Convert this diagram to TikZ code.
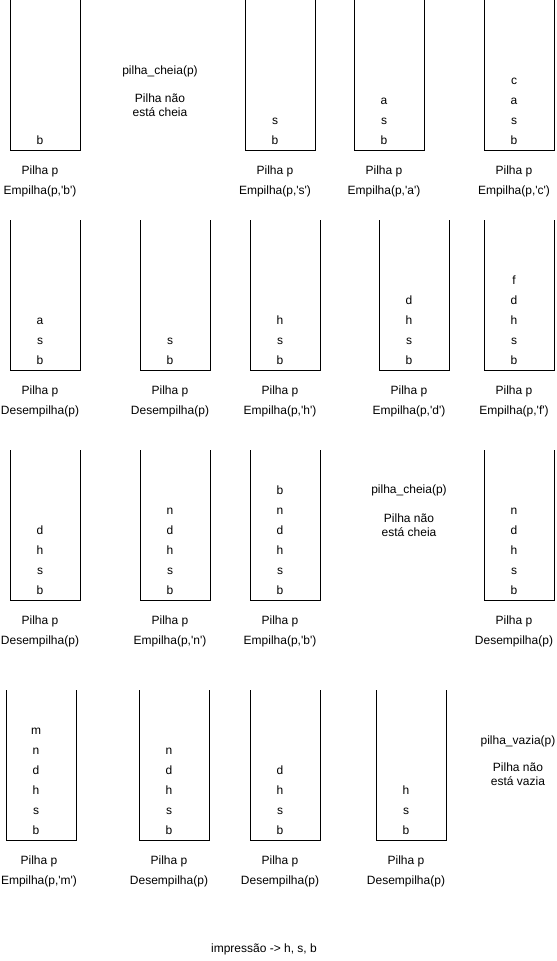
\documentclass[tikz,border=0pt]{standalone}
\usepackage{fontspec}
\setmainfont{Liberation Sans}[Ligatures=TeXOff]
\tikzset{
  stackline/.style={draw=black, line width=0.75pt},
  txt/.style={inner sep=0pt, font=\fontsize{9}{10.5}\selectfont, text height=1.5ex, text depth=.3ex, align=center},
}
% #1 name, #2 x left, #3 y top, #4 letters bottom first, #5 operation, #6 label x offset
\newcommand\mystack[6]{%
  \draw[stackline] (#2,#3) -- (#2,#3+150) -- (#2+70,#3+150) -- (#2+70,#3);
  \foreach \l [count=\i] in {#4} {\node[txt] (#1-\i) at (#2+30,#3+140-20*\i+20) {\l};}
  \node[txt] (#1-a) at (#2+#6,#3+170) {Pilha p};
  \node[txt] (#1-b) at (#2+#6,#3+190) {#5};
}
\begin{document}
\begin{tikzpicture}[x=0.75pt,y=-0.75pt]
\useasboundingbox (0,0) rectangle (557,961);
% row 1
\mystack{r1a}{10}{0}{b}{Empilha(p,'b')}{30}
\node[txt] (c1) at (160,70) {pilha\_cheia(p)};
\node[txt] (c1t) at (160,98) {Pilha não};
\node[txt] (c1u) at (160,112) {está cheia};
\mystack{r1b}{245}{0}{b,s}{Empilha(p,'s')}{30}
\mystack{r1c}{354}{0}{b,s,a}{Empilha(p,'a')}{30}
\mystack{r1d}{484}{0}{b,s,a,c}{Empilha(p,'c')}{30}
% row 2
\mystack{r2a}{10}{220}{b,s,a}{Desempilha(p)}{30}
\mystack{r2b}{140}{220}{b,s}{Desempilha(p)}{30}
\mystack{r2c}{250}{220}{b,s,h}{Empilha(p,'h')}{30}
\mystack{r2d}{379}{220}{b,s,h,d}{Empilha(p,'d')}{30}
\mystack{r2e}{484}{220}{b,s,h,d,f}{Empilha(p,'f')}{30}
% row 3
\mystack{r3a}{10}{450}{b,s,h,d}{Desempilha(p)}{30}
\mystack{r3b}{140}{450}{b,s,h,d,n}{Empilha(p,'n')}{30}
\mystack{r3c}{250}{450}{b,s,h,d,n,b}{Empilha(p,'b')}{30}
\node[txt] (c3) at (409,489) {pilha\_cheia(p)};
\node[txt] (c3t) at (409,518) {Pilha não};
\node[txt] (c3u) at (409,532) {está cheia};
\mystack{r3d}{484}{450}{b,s,h,d,n}{Desempilha(p)}{30}
% row 4
\mystack{r4a}{6}{690}{b,s,h,d,n,m}{Empilha(p,'m')}{33}
\mystack{r4b}{139}{690}{b,s,h,d,n}{Desempilha(p)}{30}
\mystack{r4c}{250}{690}{b,s,h,d}{Desempilha(p)}{30}
\mystack{r4d}{376}{690}{b,s,h}{Desempilha(p)}{30}
\node[txt] (v4) at (518,740) {pilha\_vazia(p)};
\node[txt] (v4t) at (518,767) {Pilha não};
\node[txt] (v4u) at (518,781) {está vazia};
% bottom
\node[txt] (imp) at (264,948) {impressão -> h, s, b};
\end{tikzpicture}
\end{document}
